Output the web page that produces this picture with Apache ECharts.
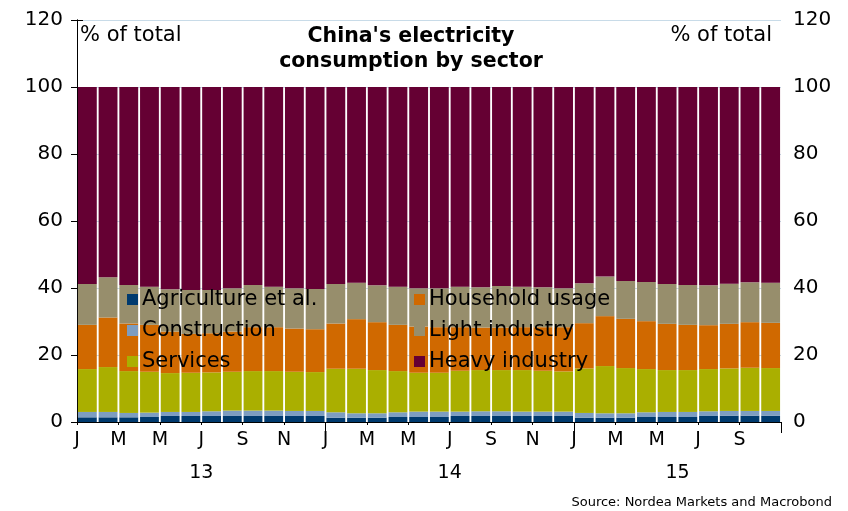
<!DOCTYPE html>
<html>
<head>
<meta charset="utf-8">
<script src="https://cdn.jsdelivr.net/npm/echarts@6/dist/echarts.min.js"></script>
<style>
  html, body { margin: 0; padding: 0; background: #ffffff; }
  #chart { width: 848px; height: 511px; }
</style>
</head>
<body>
<div id="chart"></div>
<script>
// Monthly categories, Jan 2013 – Oct 2015
const months = [];
for (let y = 2013; y <= 2015; y++) {
  for (let m = 1; m <= 12; m++) {
    if (months.length < 34) months.push(y + '-' + String(m).padStart(2, '0'));
  }
}
// Tick labels: one letter every second month, and the two-digit year
const monthLetters = ['J', 'M', 'M', 'J', 'S', 'N'];
const yearLabels = ['13', '14', '15'];

// Share of total electricity consumption, % (each sector per month)
const agriculture = [1.4, 1.4, 1.4, 1.5, 1.8, 1.8, 1.8, 1.8, 1.8, 1.8, 1.8, 1.8,
                     1.3, 1.3, 1.3, 1.5, 1.5, 1.5, 1.8, 1.8, 1.8, 1.8, 1.8, 1.8,
                     1.3, 1.3, 1.3, 1.5, 1.5, 1.5, 1.8, 1.9, 1.9, 1.9];
const construction = [1.6, 1.6, 1.3, 1.3, 1.2, 1.2, 1.4, 1.6, 1.6, 1.6, 1.5, 1.5,
                      1.6, 1.3, 1.3, 1.4, 1.6, 1.6, 1.3, 1.4, 1.4, 1.3, 1.3, 1.3,
                      1.4, 1.3, 1.3, 1.4, 1.5, 1.5, 1.4, 1.4, 1.4, 1.4];
const services = [12.8, 13.4, 12.5, 12.2, 11.6, 11.7, 11.6, 11.6, 11.8, 11.8, 11.7, 11.6,
                  13.0, 13.3, 12.9, 12.3, 11.6, 11.6, 12.2, 12.3, 12.3, 12.4, 12.2, 12.0,
                  13.3, 14.1, 13.5, 12.9, 12.5, 12.5, 12.6, 12.7, 12.9, 12.8];
const household = [13.2, 14.8, 14.2, 14.0, 12.4, 11.6, 11.7, 12.0, 13.1, 13.1, 12.9, 12.8,
                   13.5, 14.8, 14.3, 13.8, 13.8, 13.6, 13.0, 12.7, 12.7, 12.8, 13.0, 13.2,
                   13.5, 14.9, 14.7, 14.3, 13.8, 13.5, 13.1, 13.3, 13.6, 13.5];
const lightIndustry = [12.2, 12.0, 11.5, 11.4, 12.6, 13.1, 12.9, 12.9, 12.6, 12.1, 12.0, 12.0,
                       11.8, 10.9, 11.0, 11.4, 11.4, 11.6, 12.1, 12.0, 12.4, 12.1, 11.9, 11.6,
                       11.9, 11.8, 11.3, 11.7, 11.9, 11.9, 11.9, 12.0, 11.9, 12.0];
const heavyIndustry = [58.8, 56.8, 59.1, 59.6, 60.4, 60.6, 60.6, 60.1, 59.1, 59.6, 60.1, 60.3,
                       58.8, 58.4, 59.2, 59.6, 60.1, 60.1, 59.6, 59.8, 59.4, 59.6, 59.8, 60.1,
                       58.6, 56.6, 57.9, 58.2, 58.8, 59.1, 59.2, 58.7, 58.3, 58.4];

const FONT = 'DejaVu Sans';
const n = months.length;

// Year label sits in the middle of that year's months
const yearCentre = {};
yearLabels.forEach(function (yl) {
  const idx = months.map(function (m, i) { return m.slice(2, 4) === yl ? i : -1; })
                    .filter(function (i) { return i >= 0; });
  yearCentre[(idx[0] + idx[idx.length - 1] + 1) / 2] = yl;
});

const sectors = [
  { name: 'Agriculture et al.', data: agriculture,   color: '#003a6e' },
  { name: 'Construction',       data: construction,  color: '#7d9dc1' },
  { name: 'Services',           data: services,      color: '#aaaf00' },
  { name: 'Household usage',    data: household,     color: '#d06900' },
  { name: 'Light industry',     data: lightIndustry, color: '#978e6c' },
  { name: 'Heavy industry',     data: heavyIndustry, color: '#650033' }
];

const baseText = { fontFamily: FONT, color: '#000000' };

const yAxisCommon = {
  type: 'value', min: 0, max: 120, interval: 20,
  axisLine: { show: true, lineStyle: { color: '#000000', width: 1 } },
  axisTick: { show: true, length: 6, lineStyle: { color: '#000000' } },
  axisLabel: Object.assign({ fontSize: 20, margin: 10 }, baseText)
};

const legendCommon = {
  orient: 'vertical', top: 289, padding: 0,
  icon: 'rect', itemWidth: 11, itemHeight: 11, itemGap: 10,
  selectedMode: false,
  textStyle: Object.assign({ fontSize: 21, lineHeight: 21, padding: [0, 0, 0, -1] }, baseText)
};

const chart = echarts.init(document.getElementById('chart'), null, { renderer: 'canvas' });

chart.setOption({
  animation: false,
  backgroundColor: '#ffffff',
  grid: { left: 77, right: 67, top: 20, bottom: 89, containLabel: false },
  title: [
    {
      text: "China's electricity\nconsumption by sector",
      left: 411, top: 24, padding: 0, textAlign: 'center',
      textStyle: Object.assign({ fontSize: 20.5, fontWeight: 'bold', lineHeight: 25 }, baseText)
    },
    {
      text: '% of total', left: 80, top: 24, padding: 0,
      textStyle: Object.assign({ fontSize: 21, fontWeight: 'normal', lineHeight: 24 }, baseText)
    },
    {
      text: '% of total', right: 76, top: 24, padding: 0,
      textStyle: Object.assign({ fontSize: 21, fontWeight: 'normal', lineHeight: 24 }, baseText)
    },
    {
      text: 'Source: Nordea Markets and Macrobond', right: 16, top: 495, padding: 0,
      textStyle: Object.assign({ fontSize: 13, fontWeight: 'normal', lineHeight: 16 }, baseText)
    }
  ],
  legend: [
    Object.assign({}, legendCommon, {
      left: 127,
      data: sectors.slice(0, 3).map(function (s) { return s.name; })
    }),
    Object.assign({}, legendCommon, {
      left: 414,
      data: sectors.slice(3).map(function (s) { return s.name; })
    })
  ],
  xAxis: [
    // bar positions
    {
      type: 'category', data: months, boundaryGap: true,
      axisLine: { show: false }, axisTick: { show: false }, axisLabel: { show: false },
      splitLine: { show: false }
    },
    // month letters every second month, ticks at month starts
    {
      type: 'value', min: 0, max: n, interval: 2, position: 'bottom',
      axisLine: { show: true, onZero: false, lineStyle: { color: '#000000', width: 1 } },
      axisTick: { show: true, length: 3, lineStyle: { color: '#000000' } },
      axisLabel: Object.assign({
        fontSize: 19, margin: 9, showMinLabel: true, showMaxLabel: true,
        formatter: function (v) { return v < n ? monthLetters[(v / 2) % 6] : ''; }
      }, baseText),
      splitLine: { show: false }
    },
    // longer ticks at year boundaries
    {
      type: 'category', data: months, boundaryGap: true, position: 'bottom',
      axisLine: { show: false },
      axisTick: { show: true, length: 11, interval: function (i) { return i > 0 && i % 12 === 0; },
                  lineStyle: { color: '#000000' } },
      axisLabel: { show: false }, splitLine: { show: false }
    },
    // year labels
    {
      type: 'value', min: 0, max: n, interval: 1, position: 'bottom',
      axisLine: { show: false }, axisTick: { show: false },
      axisLabel: Object.assign({
        fontSize: 19, margin: 42, showMinLabel: true, showMaxLabel: true,
        formatter: function (v) { return yearCentre[v] || ''; }
      }, baseText),
      splitLine: { show: false }
    }
  ],
  yAxis: [
    Object.assign({}, yAxisCommon, {
      position: 'left', offset: 4,
      splitLine: { show: true, lineStyle: { color: '#c8dbe8', width: 1 } }
    }),
    Object.assign({}, yAxisCommon, {
      position: 'right', offset: 2,
      splitLine: { show: false }
    })
  ],
  series: sectors.map(function (s) {
    return {
      name: s.name, type: 'bar', stack: 'total',
      xAxisIndex: 0, yAxisIndex: 0,
      barCategoryGap: '9%',
      itemStyle: { color: s.color },
      data: s.data
    };
  })
});
</script>
</body>
</html>
